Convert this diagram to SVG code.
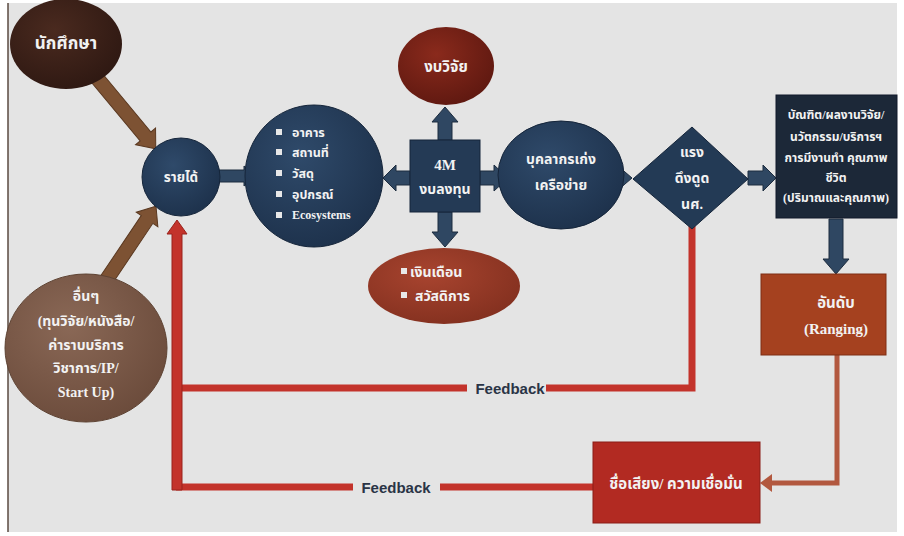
<svg xmlns="http://www.w3.org/2000/svg" width="904" height="536" viewBox="0 0 904 536">
<defs>
<style>
.t{font-family:"Liberation Serif","Noto Sans Thai","Tahoma","DejaVu Serif",serif;font-weight:bold;fill:#f2f2f2;text-anchor:middle}
.tl{font-family:"Liberation Serif","Noto Sans Thai","Tahoma","DejaVu Serif",serif;font-weight:bold;fill:#f2f2f2}
.fb{font-family:"Liberation Sans",Arial,sans-serif;font-weight:bold;fill:#2a3446;font-size:15px;text-anchor:middle}
.red{fill:none;stroke:#c3332b;stroke-width:7}
.navyA{fill:#2f4762;stroke:#1d2c3e;stroke-width:1}
.brownA{fill:#7d5233;stroke:#5a3820;stroke-width:1}
</style>
<radialGradient id="gNavy" cx="40%" cy="35%" r="70%"><stop offset="0" stop-color="#2f4a6a"/><stop offset="1" stop-color="#1d314b"/></radialGradient>
<radialGradient id="gDkBrown" cx="40%" cy="35%" r="70%"><stop offset="0" stop-color="#4a2a1f"/><stop offset="1" stop-color="#2e1812"/></radialGradient>
<radialGradient id="gGrBrown" cx="40%" cy="35%" r="70%"><stop offset="0" stop-color="#8a6856"/><stop offset="1" stop-color="#6b4b3b"/></radialGradient>
<radialGradient id="gDkRed" cx="40%" cy="35%" r="70%"><stop offset="0" stop-color="#8a2a1c"/><stop offset="1" stop-color="#5e1810"/></radialGradient>
<radialGradient id="gRed2" cx="40%" cy="35%" r="70%"><stop offset="0" stop-color="#a8442f"/><stop offset="1" stop-color="#83301f"/></radialGradient>
</defs>
<rect width="904" height="536" fill="#ffffff"/>
<rect x="8" y="3" width="889" height="529" fill="#e4e4e4"/>
<line x1="8" y1="3" x2="8" y2="532" stroke="#5a4a40" stroke-width="1.5"/>

<g id="connectors">
  <path class="red" d="M692,226 V388 H546"/>
  <path class="red" d="M467,388 H176"/>
  <path class="red" d="M593,487 H440"/>
  <path class="red" d="M353,487 H176"/>
  <polygon fill="#c3332b" stroke="#9a221c" stroke-width="1" points="172,490 172,234 167,234 177,220 187,234 182,234 182,490"/>
  <path d="M837,355 V483 H772" fill="none" stroke="#b2583f" stroke-width="5"/>
  <polygon fill="#b2583f" points="772,474 760,483 772,492"/>
  <g transform="translate(97,78) rotate(50.3)">
    <polygon class="brownA" points="0,-7 76,-7 76,-13 92,0 76,13 76,7 0,7"/>
  </g>
  <g transform="translate(103,285) rotate(-56.1)">
    <polygon class="brownA" points="0,-7 79,-7 79,-13 95,0 79,13 79,7 0,7"/>
  </g>
  <polygon class="navyA" points="216,170 244,170 244,166 256,176 244,186 244,182 216,182"/>
  <polygon class="navyA" points="410,171 396,171 396,165 383,178 396,191 396,185 410,185"/>
  <polygon class="navyA" points="480,171 494,171 494,165 508,178 494,191 494,185 480,185"/>
  <polygon class="navyA" points="438,140 438,122 432,122 445,107 458,122 452,122 452,140"/>
  <polygon class="navyA" points="438,212 438,232 432,232 445,247 458,232 452,232 452,212"/>
  <polygon class="navyA" points="604,172 618,172 618,166 632,178 618,190 618,184 604,184"/>
  <polygon class="navyA" points="748,171 763,171 763,165 776,178 763,191 763,185 748,185"/>
  <polygon class="navyA" points="829,219 829,259 823,259 836,274 849,259 843,259 843,219"/>
</g>

<g id="student">
  <ellipse cx="66" cy="44" rx="56" ry="45" fill="url(#gDkBrown)"/>
  <text class="t" x="66" y="49" font-size="17">นักศึกษา</text>
</g>
<g id="other">
  <ellipse cx="86" cy="348" rx="81" ry="74" fill="url(#gGrBrown)" stroke="#5e4333" stroke-width="1"/>
  <text class="t" x="86" y="301" font-size="14">อื่นๆ</text>
  <text class="t" x="86" y="326" font-size="14">(ทุนวิจัย/หนังสือ/</text>
  <text class="t" x="86" y="350" font-size="14">ค่าราบบริการ</text>
  <text class="t" x="86" y="373" font-size="14">วิชาการ/IP/</text>
  <text class="t" x="86" y="397" font-size="14">Start Up)</text>
</g>
<g id="income">
  <circle cx="181" cy="177" r="39" fill="url(#gNavy)" stroke="#15253a" stroke-width="1"/>
  <text class="t" x="181" y="182" font-size="13.5">รายได้</text>
</g>
<g id="facilities">
  <ellipse cx="314" cy="176" rx="69" ry="71" fill="url(#gNavy)" stroke="#15253a" stroke-width="1"/>
  <rect x="276" y="129" width="6" height="6" fill="#e8e8e8"/>
  <rect x="276" y="149" width="6" height="6" fill="#e8e8e8"/>
  <rect x="276" y="170" width="6" height="6" fill="#e8e8e8"/>
  <rect x="276" y="191" width="6" height="6" fill="#e8e8e8"/>
  <rect x="276" y="212" width="6" height="6" fill="#e8e8e8"/>
  <text class="tl" x="292" y="137" font-size="12.5">อาคาร</text>
  <text class="tl" x="292" y="157" font-size="12.5">สถานที่</text>
  <text class="tl" x="292" y="178" font-size="12.5">วัสดุ</text>
  <text class="tl" x="292" y="199" font-size="12.5">อุปกรณ์</text>
  <text class="tl" x="292" y="219" font-size="12">Ecosystems</text>
</g>
<g id="fourM">
  <rect x="410" y="140" width="70" height="72" fill="#243a55" stroke="#15253a" stroke-width="1"/>
  <text class="t" x="445" y="170" font-size="15">4M</text>
  <text class="t" x="445" y="194" font-size="14">งบลงทุน</text>
</g>
<g id="research">
  <ellipse cx="446" cy="66" rx="48" ry="39" fill="url(#gDkRed)"/>
  <text class="t" x="446" y="72" font-size="15">งบวิจัย</text>
</g>
<g id="salary">
  <ellipse cx="444" cy="286" rx="76" ry="38" fill="url(#gRed2)"/>
  <rect x="401" y="268" width="6" height="6" fill="#e8e8e8"/>
  <rect x="401" y="292" width="6" height="6" fill="#e8e8e8"/>
  <text class="tl" x="410" y="277" font-size="14">เงินเดือน</text>
  <text class="tl" x="415" y="301" font-size="14">สวัสดิการ</text>
</g>
<g id="staff">
  <ellipse cx="561" cy="175" rx="63" ry="54" fill="url(#gNavy)" stroke="#15253a" stroke-width="1"/>
  <text class="t" x="561" y="164" font-size="14">บุคลากรเก่ง</text>
  <text class="t" x="561" y="190" font-size="14">เครือข่าย</text>
</g>
<g id="attract">
  <polygon points="692,127 748,179 692,229 633,179" fill="#233a55" stroke="#15253a" stroke-width="1"/>
  <text class="t" x="692" y="157" font-size="14">แรง</text>
  <text class="t" x="692" y="183" font-size="14">ดึงดูด</text>
  <text class="t" x="692" y="209" font-size="14">นศ.</text>
</g>
<g id="outputs">
  <rect x="776" y="95" width="121" height="123" fill="#1c2838" stroke="#10192a" stroke-width="1"/>
  <text class="t" x="836" y="119" font-size="12">บัณฑิต/ผลงานวิจัย/</text>
  <text class="t" x="836" y="141" font-size="12">นวัตกรรม/บริการฯ</text>
  <text class="t" x="836" y="162" font-size="12">การมีงานทำ คุณภาพ</text>
  <text class="t" x="836" y="182" font-size="12">ชีวิต</text>
  <text class="t" x="836" y="202" font-size="12">(ปริมาณและคุณภาพ)</text>
</g>
<g id="ranking">
  <rect x="761" y="274" width="125" height="81" fill="#a5411f" stroke="#7e2e14" stroke-width="1"/>
  <text class="t" x="836" y="308" font-size="15">อันดับ</text>
  <text class="t" x="836" y="334" font-size="15">(Ranging)</text>
</g>
<g id="reputation">
  <rect x="593" y="442" width="167" height="81" fill="#b22a22" stroke="#8a1d17" stroke-width="1"/>
  <text class="t" x="676" y="489" font-size="15">ชื่อเสียง/ ความเชื่อมั่น</text>
</g>
<g id="labels">
  <text class="fb" x="510" y="394">Feedback</text>
  <text class="fb" x="396" y="493">Feedback</text>
</g>
</svg>
